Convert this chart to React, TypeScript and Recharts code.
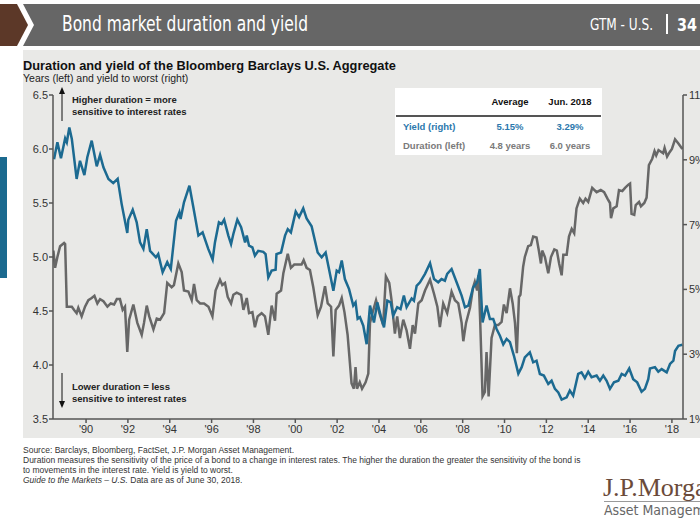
import React from "react";
import { LineChart, Line, XAxis, YAxis } from "recharts";

// yield to worst, % (right axis)
const yieldYears = [
  1988.47, 1988.63, 1988.8, 1989.0, 1989.08, 1989.2, 1989.32, 1989.55, 1989.71, 1989.92,
  1990.06, 1990.27, 1990.51, 1990.67, 1990.83, 1991.07, 1991.3, 1991.51, 1991.7, 1991.97,
  1992.02, 1992.23, 1992.42, 1992.58, 1992.74, 1992.9, 1993.06, 1993.34, 1993.45, 1993.66,
  1993.88, 1994.05, 1994.3, 1994.46, 1994.52, 1994.68, 1994.94, 1995.13, 1995.37, 1995.57,
  1995.84, 1996.05, 1996.16, 1996.35, 1996.48, 1996.6, 1996.8, 1996.93, 1997.04, 1997.23,
  1997.41, 1997.6, 1997.68, 1997.79, 1997.95, 1998.07, 1998.23, 1998.47, 1998.58, 1998.71,
  1998.87, 1999.06, 1999.1, 1999.32, 1999.51, 1999.64, 1999.79, 2000.02, 2000.18, 2000.38,
  2000.54, 2000.78, 2001.07, 2001.26, 2001.45, 2001.61, 2001.82, 2001.98, 2002.09, 2002.22,
  2002.37, 2002.57, 2002.77, 2002.88, 2002.98, 2003.09, 2003.25, 2003.41, 2003.57, 2003.76,
  2003.92, 2004.08, 2004.24, 2004.4, 2004.56, 2004.68, 2004.87, 2005.03, 2005.19, 2005.32,
  2005.56, 2005.67, 2005.8, 2005.96, 2006.2, 2006.44, 2006.63, 2006.83, 2006.99, 2007.15,
  2007.26, 2007.47, 2007.71, 2007.95, 2008.11, 2008.27, 2008.5, 2008.69, 2008.82, 2008.95,
  2009.14, 2009.3, 2009.46, 2009.62, 2009.78, 2009.94, 2010.1, 2010.26, 2010.45, 2010.66,
  2010.82, 2010.97, 2011.21, 2011.37, 2011.53, 2011.69, 2011.88, 2012.09, 2012.25, 2012.41,
  2012.57, 2012.73, 2012.97, 2013.12, 2013.28, 2013.52, 2013.68, 2013.84, 2014.0, 2014.16,
  2014.4, 2014.56, 2014.72, 2014.88, 2015.04, 2015.23, 2015.44, 2015.6, 2015.76, 2015.96,
  2016.15, 2016.34, 2016.55, 2016.71, 2016.87, 2016.95, 2017.19, 2017.35, 2017.51, 2017.75,
  2017.91, 2018.07, 2018.15, 2018.31, 2018.5,
];
const yieldValues = [
  9.02, 9.54, 9.05, 9.66, 9.54, 10.0, 9.64, 8.41, 8.97, 8.53,
  9.08, 9.59, 8.8, 9.15, 8.77, 8.41, 8.28, 8.41, 7.64, 6.74,
  7.15, 7.46, 7.07, 6.45, 6.25, 6.86, 6.19, 5.99, 6.09, 5.53,
  5.84, 5.63, 7.12, 7.38, 7.17, 7.69, 8.2, 7.53, 6.66, 6.76,
  6.25, 5.92, 6.45, 7.07, 7.02, 7.15, 6.66, 6.4, 6.71, 7.15,
  6.92, 6.45, 6.66, 6.35, 6.3, 6.04, 6.19, 6.16, 6.09, 5.37,
  5.58, 5.61, 6.09, 6.14, 6.66, 6.86, 6.76, 7.4, 7.23, 7.5,
  7.19, 6.95, 6.14, 5.99, 6.14, 5.63, 4.96, 5.58, 5.53, 5.89,
  5.32, 5.01, 4.5, 4.6, 4.09, 4.14, 3.88, 3.31, 4.5, 3.98,
  4.6, 4.19, 3.83, 4.65, 4.6, 4.19, 4.45, 4.39, 4.81, 4.45,
  4.72, 4.65, 5.11, 5.22, 5.48, 5.81, 5.32, 5.22, 5.32, 5.27,
  5.48, 5.63, 5.22, 4.81, 4.45, 4.5, 5.06, 5.22, 5.63, 3.98,
  4.5, 4.09, 4.09, 3.78, 3.57, 3.3, 3.47, 3.37, 2.95, 2.4,
  2.6, 2.9, 3.06, 2.75, 2.8, 2.39, 2.34, 2.08, 2.18, 1.93,
  1.82, 1.6, 1.67, 1.88, 1.72, 2.39, 2.44, 2.26, 2.46, 2.29,
  2.34, 2.18, 2.34, 2.18, 1.93, 2.13, 2.18, 2.39, 2.34, 2.56,
  2.23, 2.13, 1.84, 1.93, 2.23, 2.56, 2.6, 2.46, 2.54, 2.44,
  2.7, 2.8, 3.1, 3.26, 3.29,
];

// duration, years (left axis)
const durationYears = [
  1988.44, 1988.52, 1988.63, 1988.76, 1988.95, 1989.0, 1989.08, 1989.32, 1989.43, 1989.55,
  1989.63, 1989.79, 1989.95, 1990.11, 1990.27, 1990.4, 1990.54, 1990.67, 1990.83, 1991.02,
  1991.18, 1991.34, 1991.47, 1991.62, 1991.75, 1991.86, 1991.97, 1992.06, 1992.26, 1992.45,
  1992.66, 1992.77, 1992.9, 1993.02, 1993.22, 1993.38, 1993.54, 1993.73, 1993.88, 1994.09,
  1994.2, 1994.41, 1994.57, 1994.68, 1994.89, 1995.05, 1995.16, 1995.29, 1995.45, 1995.64,
  1995.85, 1996.04, 1996.19, 1996.4, 1996.51, 1996.64, 1996.77, 1996.93, 1997.04, 1997.2,
  1997.41, 1997.52, 1997.68, 1997.79, 1997.95, 1998.07, 1998.2, 1998.39, 1998.55, 1998.71,
  1998.87, 1999.03, 1999.11, 1999.32, 1999.43, 1999.64, 1999.79, 1999.95, 2000.14, 2000.3,
  2000.4, 2000.54, 2000.7, 2000.86, 2001.07, 2001.23, 2001.42, 2001.55, 2001.71, 2001.82,
  2001.93, 2002.09, 2002.22, 2002.35, 2002.5, 2002.69, 2002.8, 2002.88, 2002.95, 2003.08,
  2003.19, 2003.36, 2003.49, 2003.57, 2003.7, 2003.86, 2004.02, 2004.2, 2004.33, 2004.49,
  2004.6, 2004.76, 2004.87, 2005.0, 2005.16, 2005.32, 2005.48, 2005.61, 2005.72, 2005.88,
  2006.04, 2006.2, 2006.44, 2006.63, 2006.79, 2006.91, 2007.07, 2007.26, 2007.47, 2007.63,
  2007.79, 2007.95, 2008.03, 2008.16, 2008.35, 2008.5, 2008.58, 2008.69, 2008.76, 2008.83,
  2008.95, 2009.06, 2009.14, 2009.24, 2009.38, 2009.54, 2009.7, 2009.86, 2009.97, 2010.1,
  2010.26, 2010.39, 2010.5, 2010.59, 2010.69, 2010.76, 2010.89, 2010.97, 2011.13, 2011.26,
  2011.37, 2011.53, 2011.64, 2011.74, 2011.8, 2011.93, 2012.09, 2012.22, 2012.38, 2012.5,
  2012.61, 2012.73, 2012.81, 2012.97, 2013.08, 2013.21, 2013.33, 2013.44, 2013.6, 2013.76,
  2013.87, 2014.0, 2014.19, 2014.4, 2014.6, 2014.76, 2014.92, 2015.04, 2015.09, 2015.2,
  2015.36, 2015.47, 2015.63, 2015.76, 2015.92, 2016.0, 2016.07, 2016.2, 2016.27, 2016.43,
  2016.52, 2016.68, 2016.79, 2016.9, 2017.06, 2017.17, 2017.25, 2017.36, 2017.58, 2017.65,
  2017.77, 2017.89, 2018.0, 2018.15, 2018.31, 2018.5,
];
const durationValues = [
  5.06, 4.9, 5.0, 5.1, 5.13, 5.12, 4.54, 4.54, 4.51, 4.48,
  4.53, 4.45, 4.54, 4.6, 4.62, 4.64, 4.57, 4.61, 4.59, 4.54,
  4.57, 4.56, 4.61, 4.61, 4.51, 4.54, 4.12, 4.42, 4.56, 4.39,
  4.28, 4.39, 4.55, 4.45, 4.33, 4.43, 4.42, 4.48, 4.76, 4.72,
  4.74, 4.94, 4.86, 4.69, 4.68, 4.6, 4.75, 4.6, 4.57, 4.57,
  4.54, 4.45, 4.69, 4.79, 4.74, 4.76, 4.63, 4.57, 4.65, 4.67,
  4.65, 4.51, 4.62, 4.48, 4.49, 4.35, 4.45, 4.48, 4.45, 4.28,
  4.55, 4.41, 4.66, 4.69, 4.85, 5.03, 4.9, 4.93, 4.93, 4.93,
  4.97, 4.9, 4.88, 4.72, 4.46, 4.54, 4.73, 4.57, 4.54, 4.08,
  4.51, 4.55, 4.62, 4.49, 4.28, 3.83, 3.78, 3.98, 3.78, 3.84,
  3.78, 3.84, 3.92, 4.39, 4.49, 4.6, 4.48, 4.37, 4.82, 4.76,
  4.6, 4.29, 4.45, 4.25, 4.42, 4.32, 4.15, 4.37, 4.29, 4.57,
  4.6, 4.69, 4.79, 4.66, 4.54, 4.35, 4.57, 4.48, 4.68, 4.6,
  4.57, 4.39, 4.22, 4.39, 4.53, 4.72, 4.77, 4.69, 4.83, 4.45,
  3.71, 3.75, 4.12, 3.71, 4.25, 4.37, 4.37, 4.4, 4.56, 4.48,
  4.71, 4.57, 4.39, 4.11, 4.63, 4.65, 4.91, 5.0, 5.1, 5.11,
  5.19, 5.18, 5.06, 4.94, 5.06, 5.0, 4.85, 5.0, 5.07, 5.06,
  4.94, 4.83, 5.02, 5.02, 5.19, 5.26, 5.22, 5.45, 5.54, 5.5,
  5.54, 5.51, 5.64, 5.6, 5.62, 5.6, 5.54, 5.5, 5.36, 5.45,
  5.47, 5.62, 5.61, 5.64, 5.67, 5.68, 5.4, 5.39, 5.48, 5.51,
  5.47, 5.5, 5.55, 5.85, 5.91, 5.98, 5.94, 5.99, 5.96, 6.01,
  5.93, 5.97, 6.0, 6.09, 6.05, 6.0,
];

const yearTicks = [1990, 1992, 1994, 1996, 1998, 2000, 2002, 2004, 2006, 2008, 2010, 2012, 2014, 2016, 2018];
const durationTicks = [3.5, 4.0, 4.5, 5.0, 5.5, 6.0, 6.5];
const yieldTicks = [1, 3, 5, 7, 9, 11];

const yieldData = yieldYears.map((x, i) => ({ x, v: yieldValues[i] }));
const durationData = durationYears.map((x, i) => ({ x, v: durationValues[i] }));

const BLUE = "#1c6a91";
const GRAY = "#676767";
const FONT = "'Liberation Sans', Arial, sans-serif";
const NARROW = "'Liberation Sans Narrow', 'DejaVu Sans Condensed', sans-serif";

const tickStyle = { fill: "#333", fontSize: 11, fontFamily: FONT };
const axisStroke = { stroke: "#555", strokeWidth: 1.5 };

const abs = (l: number, t: number, extra: any = {}) => ({
  position: "absolute" as const,
  left: l,
  top: t,
  ...extra,
});

export default function App() {
  return (
    <div style={{ position: "absolute", left: 0, top: 0, width: 700, height: 525, overflow: "hidden", background: "#fff", fontFamily: FONT }}>
      {/* header bar */}
      <svg width={700} height={50} style={abs(0, 0)}>
        <polygon points="0,4 17,4 28,25 17,46 0,46" fill="#5c3828" />
        <polygon points="23,4 700,4 700,46 23,46 34,25" fill="#666666" />
        <text x={62} y={31} fill="#fff" fontSize={21} fontFamily={NARROW} textLength={246} lengthAdjust="spacingAndGlyphs">
          Bond market duration and yield
        </text>
        <text x={590} y={30} fill="#fff" fontSize={15} fontFamily={NARROW} textLength={63} lengthAdjust="spacingAndGlyphs">
          GTM - U.S.
        </text>
        <rect x={666} y={14} width={2} height={20} fill="#fff" />
        <text x={677} y={31} fill="#fff" fontSize={17} fontFamily={NARROW} fontWeight="bold" textLength={20} lengthAdjust="spacingAndGlyphs">
          34
        </text>
      </svg>

      {/* light panel and side marker */}
      <div style={abs(23, 50, { width: 677, height: 388, background: "#e9e9e7" })} />
      <div style={abs(0, 157, { width: 7, height: 121, background: "#1b6a8f" })} />

      <div style={abs(23, 58, { fontSize: 12.8, fontWeight: "bold", color: "#111", whiteSpace: "nowrap" })}>
        Duration and yield of the Bloomberg Barclays U.S. Aggregate
      </div>
      <div style={abs(23, 72, { fontSize: 10.5, color: "#222", whiteSpace: "nowrap" })}>
        Years (left) and yield to worst (right)
      </div>

      <div style={abs(0, 0)}>
        <LineChart width={700} height={525} margin={{ top: 95, right: 0, bottom: 76, left: 8 }}>
          <XAxis
            dataKey="x"
            type="number"
            domain={[1988.42, 2018.53]}
            ticks={yearTicks}
            tickFormatter={(v: number) => "'" + String(v).slice(2)}
            tick={tickStyle}
            axisLine={axisStroke}
            tickLine={axisStroke}
            tickSize={4}
            tickMargin={2}
            height={30}
            allowDataOverflow
          />
          <YAxis
            yAxisId="dur"
            orientation="left"
            domain={[3.5, 6.5]}
            ticks={durationTicks}
            tickFormatter={(v: number) => v.toFixed(1)}
            tick={tickStyle}
            axisLine={axisStroke}
            tickLine={axisStroke}
            tickSize={4}
            tickMargin={1}
            width={45}
            allowDataOverflow
          />
          <YAxis
            yAxisId="yld"
            orientation="right"
            domain={[1, 11]}
            ticks={yieldTicks}
            tickFormatter={(v: number) => v + "%"}
            tick={{ ...tickStyle, textAnchor: "start" }}
            axisLine={axisStroke}
            tickLine={axisStroke}
            tickSize={4}
            tickMargin={2}
            width={17}
            allowDataOverflow
          />
          <Line
            yAxisId="dur"
            data={durationData}
            dataKey="v"
            type="linear"
            stroke={GRAY}
            strokeWidth={2.5}
            dot={false}
            isAnimationActive={false}
          />
          <Line
            yAxisId="yld"
            data={yieldData}
            dataKey="v"
            type="linear"
            stroke={BLUE}
            strokeWidth={2.5}
            dot={false}
            isAnimationActive={false}
          />
        </LineChart>
      </div>

      {/* annotations */}
      <svg width={700} height={525} style={abs(0, 0, { pointerEvents: "none" })}>
        <line x1={62} y1={121} x2={62} y2={93} stroke="#111" strokeWidth={1} />
        <polygon points="59,94 65,94 62,87" fill="#111" />
        <line x1={62} y1={373} x2={62} y2={402} stroke="#111" strokeWidth={1} />
        <polygon points="59,401 65,401 62,408" fill="#111" />
      </svg>
      <div style={abs(72, 94, { fontSize: 9.5, fontWeight: "bold", color: "#222", lineHeight: "11.5px", whiteSpace: "nowrap" })}>
        Higher duration = more
        <br />
        sensitive to interest rates
      </div>
      <div style={abs(72, 381, { fontSize: 9.5, fontWeight: "bold", color: "#222", lineHeight: "12px", whiteSpace: "nowrap" })}>
        Lower duration = less
        <br />
        sensitive to interest rates
      </div>

      {/* stats table */}
      <div style={abs(395, 88, { width: 207, height: 67, background: "#fff", fontSize: 9.5, fontWeight: "bold" })}>
        <div style={abs(85, 8, { width: 60, textAlign: "center", color: "#111" })}>Average</div>
        <div style={abs(145, 8, { width: 60, textAlign: "center", color: "#111" })}>Jun. 2018</div>
        <div style={abs(1, 27, { width: 205, height: 2, background: "#555" })} />
        <div style={abs(8, 33, { color: "#2b78ad" })}>Yield (right)</div>
        <div style={abs(85, 33, { width: 60, textAlign: "center", color: "#2b78ad" })}>5.15%</div>
        <div style={abs(145, 33, { width: 60, textAlign: "center", color: "#2b78ad" })}>3.29%</div>
        <div style={abs(8, 52, { color: "#7a7a7a" })}>Duration (left)</div>
        <div style={abs(85, 52, { width: 60, textAlign: "center", color: "#7a7a7a" })}>4.8 years</div>
        <div style={abs(145, 52, { width: 60, textAlign: "center", color: "#7a7a7a" })}>6.0 years</div>
      </div>

      {/* footnotes */}
      <div style={abs(23, 445, { fontSize: 8.5, lineHeight: "10px", color: "#333", whiteSpace: "nowrap" })}>
        Source: Barclays, Bloomberg, FactSet, J.P. Morgan Asset Management.
        <br />
        Duration measures the sensitivity of the price of a bond to a change in interest rates. The higher the duration the greater the sensitivity of the bond is
        <br />
        to movements in the interest rate. Yield is yield to worst.
        <br />
        <i>Guide to the Markets – U.S.</i> Data are as of June 30, 2018.
      </div>

      {/* logo */}
      <div style={abs(603, 474, { fontSize: 26, fontFamily: "'Liberation Serif', 'DejaVu Serif', serif", color: "#6b4b3a", whiteSpace: "nowrap", lineHeight: "27px" })}>
        J.P.Morgan
      </div>
      <div style={abs(604, 501, { width: 96, height: 1, background: "#9a9a9a" })} />
      <div style={abs(604, 503, { fontSize: 14, fontFamily: NARROW, color: "#666", whiteSpace: "nowrap", lineHeight: "15px" })}>
        Asset Management
      </div>
    </div>
  );
}
